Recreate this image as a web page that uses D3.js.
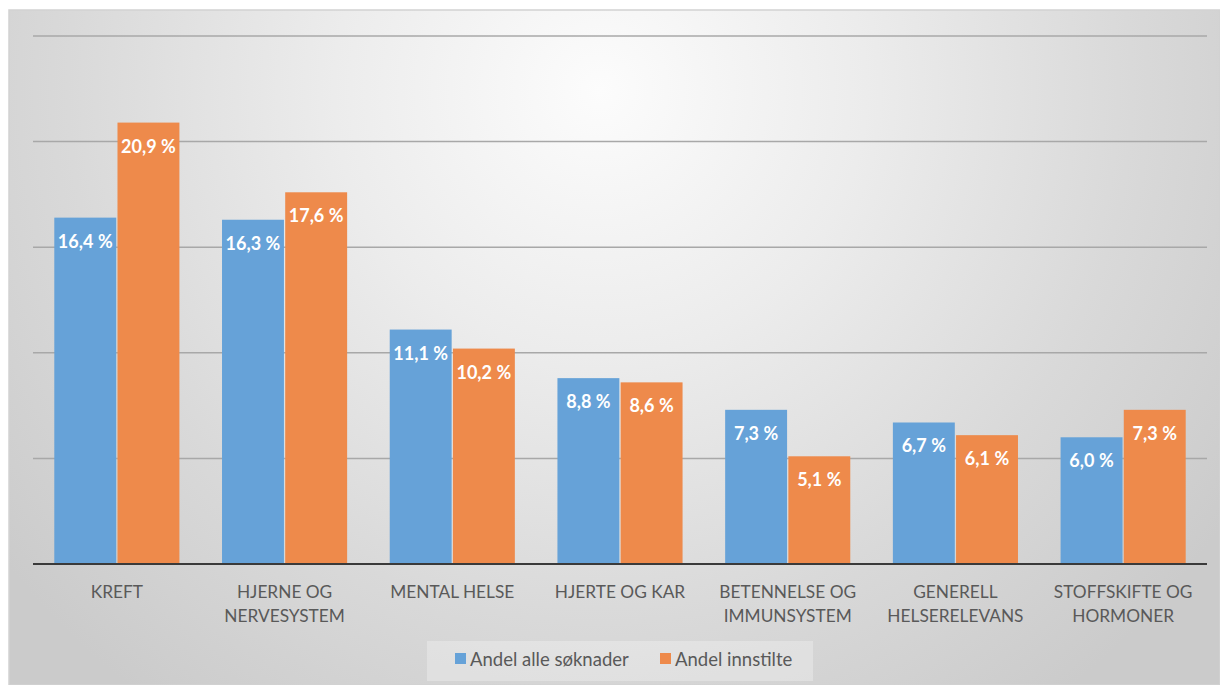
<!DOCTYPE html>
<html>
<head>
<meta charset="utf-8">
<script src="https://cdn.jsdelivr.net/npm/d3@7"></script>
<style>
  html, body { margin: 0; padding: 0; background: #fff; }
  svg { display: block; }
</style>
</head>
<body>
<svg id="chart" width="1220" height="685"></svg>
<script>
// Research areas and the two shares compared for each
const categories = [
  ["KREFT"],
  ["HJERNE OG", "NERVESYSTEM"],
  ["MENTAL HELSE"],
  ["HJERTE OG KAR"],
  ["BETENNELSE OG", "IMMUNSYSTEM"],
  ["GENERELL", "HELSERELEVANS"],
  ["STOFFSKIFTE OG", "HORMONER"]
];
const seriesNames = ["Andel alle søknader", "Andel innstilte"];
const allApplications = [16.4, 16.3, 11.1, 8.8, 7.3, 6.7, 6.0];
const recommended = [20.9, 17.6, 10.2, 8.6, 5.1, 6.1, 7.3];
const gridTicks = [5, 10, 15, 20, 25];

const colors = ["#66a2d8", "#ee8a4b"];
const seriesValues = [allApplications, recommended];

const svg = d3.select("#chart");
const W = 1220, H = 685;
const font = "Lato, 'Open Sans', sans-serif";

// Soft radial backdrop of the chart area
const defs = svg.append("defs");
const grad = defs.append("radialGradient")
  .attr("id", "bg")
  .attr("gradientUnits", "userSpaceOnUse")
  .attr("cx", 600).attr("cy", 90).attr("r", 760)
  .attr("fx", 600).attr("fy", 90);
grad.append("stop").attr("offset", "0%").attr("stop-color", "#fcfcfc");
grad.append("stop").attr("offset", "35%").attr("stop-color", "#ececec");
grad.append("stop").attr("offset", "70%").attr("stop-color", "#d9d9d9");
grad.append("stop").attr("offset", "100%").attr("stop-color", "#cbcbcb");

svg.append("rect")
  .attr("x", 9).attr("y", 10)
  .attr("width", W - 9).attr("height", H - 10)
  .attr("fill", "url(#bg)")
  .attr("stroke", "#d2d2d2").attr("stroke-width", 1.5);

const plotLeft = 33, plotRight = 1207;
const y = d3.scaleLinear().domain([0, 25]).range([564, 36]);

const keys = categories.map((c, i) => i);
const x0 = d3.scaleBand().domain(keys).range([plotLeft, plotRight])
  .paddingInner(0.254).paddingOuter(0.127);
const x1 = d3.scaleBand().domain([0, 1]).range([0, x0.bandwidth()]).paddingInner(0.02);

// Horizontal gridlines
svg.append("g").selectAll("line")
  .data(gridTicks)
  .join("line")
  .attr("x1", plotLeft).attr("x2", plotRight)
  .attr("y1", d => y(d)).attr("y2", d => y(d))
  .attr("stroke", "#a8a8a8").attr("stroke-width", 1.5);

// Bars
const groups = svg.append("g").selectAll("g")
  .data(keys)
  .join("g")
  .attr("transform", i => `translate(${x0(i)},0)`);

const fmt = v => v.toFixed(1).replace(".", ",") + "\u202F%";

groups.selectAll("rect")
  .data(i => seriesValues.map((vals, s) => ({ s, v: vals[i] })))
  .join("rect")
  .attr("x", d => x1(d.s))
  .attr("width", x1.bandwidth())
  .attr("y", d => y(d.v))
  .attr("height", d => y(0) - y(d.v))
  .attr("fill", d => colors[d.s]);

// Value labels inside the top of each bar
groups.selectAll("text")
  .data(i => seriesValues.map((vals, s) => ({ s, v: vals[i] })))
  .join("text")
  .attr("x", d => x1(d.s) + x1.bandwidth() / 2)
  .attr("y", d => y(d.v) + 23)
  .attr("text-anchor", "middle")
  .attr("dominant-baseline", "central")
  .attr("fill", "#ffffff")
  .attr("font-family", font)
  .attr("font-weight", "bold")
  .attr("font-size", 18)
  .text(d => fmt(d.v));

// Baseline
svg.append("line")
  .attr("x1", plotLeft).attr("x2", plotRight)
  .attr("y1", y(0)).attr("y2", y(0))
  .attr("stroke", "#3a3a3a").attr("stroke-width", 2);

// Category labels
const catLabels = svg.append("g").selectAll("text")
  .data(keys)
  .join("text")
  .attr("text-anchor", "middle")
  .attr("fill", "#595959")
  .attr("font-family", font)
  .attr("font-size", 17.3);
catLabels.each(function(i) {
  const t = d3.select(this);
  categories[i].forEach((line, k) => {
    t.append("tspan")
      .attr("x", x0(i) + x0.bandwidth() / 2)
      .attr("y", 591 + k * 24)
      .attr("dominant-baseline", "central")
      .text(line);
  });
});

// Legend
const legend = svg.append("g");
legend.append("rect")
  .attr("x", 427).attr("y", 641).attr("width", 386).attr("height", 40)
  .attr("fill", "#ffffff").attr("opacity", 0.28);
const legendX = [455, 660];
seriesNames.forEach((name, s) => {
  legend.append("rect")
    .attr("x", legendX[s]).attr("y", 653)
    .attr("width", 11).attr("height", 11)
    .attr("fill", colors[s]);
  legend.append("text")
    .attr("x", legendX[s] + 15).attr("y", 659)
    .attr("dominant-baseline", "central")
    .attr("fill", "#595959")
    .attr("font-family", font)
    .attr("font-size", 18.5)
    .text(name);
});
</script>
</body>
</html>
